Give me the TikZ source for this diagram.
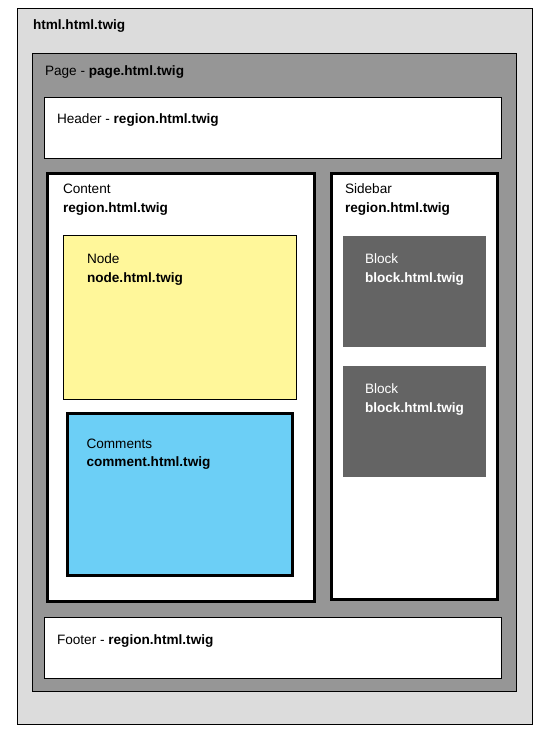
\documentclass[tikz,border=0pt]{standalone}
\usepackage{fontspec}
\setmainfont{Liberation Sans}
\definecolor{outergray}{HTML}{DCDCDC}
\definecolor{pagegray}{HTML}{969696}
\definecolor{nodeyellow}{HTML}{FFF79A}
\definecolor{commentblue}{HTML}{6CCFF6}
\definecolor{blockgray}{HTML}{646464}
\begin{document}
\begin{tikzpicture}[x=1pt,y=-1pt,
  box/.style={anchor=north west,inner sep=0pt,outer sep=0pt},
  thinbox/.style={box,draw=black,line width=1pt},
  thickbox/.style={box,draw=black,line width=3pt},
  lbl/.style={anchor=base west,inner sep=0pt,outer sep=0pt,font=\fontsize{13.6}{18.5}\selectfont,text=black},
  wlbl/.style={lbl,text=white}]
\useasboundingbox (0,0) rectangle (550,735);
% outer html
\node[thinbox,fill=outergray,minimum width=515pt,minimum height=716pt] (html) at (17.5,8.5) {};
\node[lbl] (htmlt) at (33,29.5) {\textbf{html.html.twig}};
% page
\node[thinbox,fill=pagegray,minimum width=484pt,minimum height=638pt] (page) at (32.5,53.5) {};
\node[lbl] (paget) at (45,75.5) {Page - \textbf{page.html.twig}};
% header
\node[thinbox,fill=white,minimum width=457pt,minimum height=61pt] (header) at (44.5,97.5) {};
\node[lbl] (headert) at (57,123.5) {Header - \textbf{region.html.twig}};
% content
\node[thickbox,fill=white,minimum width=267pt,minimum height=428pt] (content) at (47.5,173.5) {};
\node[lbl] (contentt1) at (63,194) {Content};
\node[lbl] (contentt2) at (63,212.5) {\textbf{region.html.twig}};
% node
\node[thinbox,fill=nodeyellow,minimum width=233pt,minimum height=164pt] (node) at (63.5,235.5) {};
\node[lbl] (nodet1) at (87,263.5) {Node};
\node[lbl] (nodet2) at (87,282) {\textbf{node.html.twig}};
% comments
\node[thickbox,fill=commentblue,minimum width=225pt,minimum height=162pt] (comments) at (67.5,413.5) {};
\node[lbl] (commentst1) at (86.5,448) {Comments};
\node[lbl] (commentst2) at (86.5,466.5) {\textbf{comment.html.twig}};
% sidebar
\node[thickbox,fill=white,minimum width=166pt,minimum height=426pt] (sidebar) at (331.5,173.5) {};
\node[lbl] (sidebart1) at (345,194) {Sidebar};
\node[lbl] (sidebart2) at (345,212.5) {\textbf{region.html.twig}};
% blocks
\node[box,fill=blockgray,minimum width=143pt,minimum height=111pt] (block1) at (343,236) {};
\node[wlbl] (block1t1) at (365,263.5) {Block};
\node[wlbl] (block1t2) at (365,282) {\textbf{block.html.twig}};
\node[box,fill=blockgray,minimum width=143pt,minimum height=111pt] (block2) at (343,366) {};
\node[wlbl] (block2t1) at (365,393.5) {Block};
\node[wlbl] (block2t2) at (365,412) {\textbf{block.html.twig}};
% footer
\node[thinbox,fill=white,minimum width=457pt,minimum height=61pt] (footer) at (44.5,617.5) {};
\node[lbl] (footert) at (57,644) {Footer - \textbf{region.html.twig}};
\end{tikzpicture}
\end{document}
